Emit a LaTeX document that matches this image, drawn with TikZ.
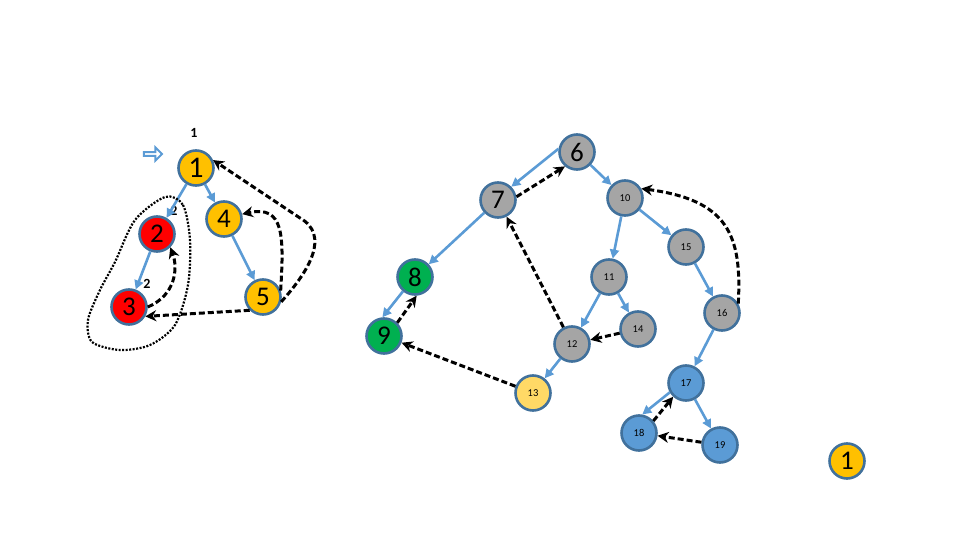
\documentclass[tikz,border=0pt]{standalone}
\usepackage{fontspec}
\setmainfont{Carlito}
\usetikzlibrary{arrows.meta,shapes.arrows}
\definecolor{bord}{HTML}{41719C}
\definecolor{orng}{HTML}{FFC000}
\definecolor{rd}{HTML}{FF0000}
\definecolor{gry}{HTML}{A5A5A5}
\definecolor{grn}{HTML}{00B050}
\definecolor{blu}{HTML}{5B9BD5}
\definecolor{ylw}{HTML}{FFD966}
\definecolor{arrblue}{HTML}{5B9BD5}
\tikzset{
  vtx/.style={circle, draw=bord, line width=2.6pt, minimum size=35pt, inner sep=0pt, font=\fontsize{27}{27}\selectfont},
  svtx/.style={vtx, font=\fontsize{10.5}{10.5}\selectfont},
  tree/.style={draw=arrblue, line width=2.6pt, -{Triangle[length=9pt,width=9pt]}},
  back/.style={draw=black, line width=3pt, dash pattern=on 6pt off 3pt, -{Stealth[length=11pt,width=11pt]}},
  lbl/.style={font=\bfseries\fontsize{14}{14}\selectfont, inner sep=0pt},
}
\begin{document}
\begin{tikzpicture}[x=1pt,y=-1pt]
\useasboundingbox (0,0) rectangle (960,540);
% left component
\node[vtx, fill=orng, font=\fontsize{30}{30}\selectfont] (n1) at (196,168) {1};
\node[vtx, fill=rd] (n2) at (157,234) {2};
\node[vtx, fill=rd] (n3) at (129,307) {3};
\node[vtx, fill=orng] (n4) at (224,219) {4};
\node[vtx, fill=orng] (n5) at (263,297) {5};
% middle
\node[vtx, fill=gry] (n6) at (577,152) {6};
\node[vtx, fill=gry] (n7) at (498,200) {7};
\node[vtx, fill=grn] (n8) at (415,277) {8};
\node[vtx, fill=grn] (n9) at (384,336) {9};
\node[svtx, fill=gry] (n10) at (625,198) {10};
\node[svtx, fill=gry] (n11) at (609,277) {11};
\node[svtx, fill=gry] (n12) at (572,344) {12};
\node[svtx, fill=ylw] (n13) at (533,393) {13};
\node[svtx, fill=gry] (n14) at (638,329) {14};
\node[svtx, fill=gry] (n15) at (686,247) {15};
\node[svtx, fill=gry] (n16) at (722,313) {16};
\node[svtx, fill=blu] (n17) at (686,383) {17};
\node[svtx, fill=blu] (n18) at (639,433) {18};
\node[svtx, fill=blu] (n19) at (720,445) {19};
\node[vtx, fill=orng] (big1) at (847,461) {1};
% labels
\node[lbl] (l1) at (194,133) {1};
\node[lbl] (l2) at (174,211) {2};
\node[lbl] (l3) at (147,284) {2};
% start arrow
\node[single arrow, draw=arrblue, line width=2pt, minimum height=18pt, minimum width=13pt, single arrow head extend=2.5pt, inner sep=0pt] (start) at (152,154) {};
% tree edges
\draw[tree] (n1) -- (n2);
\draw[tree] (n1) -- (n4);
\draw[tree] (n2) -- (n3);
\draw[tree] (n4) -- (n5);
\draw[tree] (n6.170) -- (n7.45);
\draw[tree] (n6) -- (n10);
\draw[tree] (n7) -- (n8);
\draw[tree] (n8.-130) -- (n9.95);
\draw[tree] (n10) -- (n11);
\draw[tree] (n10) -- (n15);
\draw[tree] (n11) -- (n12);
\draw[tree] (n11) -- (n14);
\draw[tree] (n12) -- (n13);
\draw[tree] (n15) -- (n16);
\draw[tree] (n16) -- (n17);
\draw[tree] (n17.-150) -- (n18.80);
\draw[tree] (n17) -- (n19);
% back edges
\draw[back] (n5.-15) .. controls (310,270) and (330,235) .. (300,218) -- (n1.25);
\draw[back] (n5.20) .. controls (284,235) and (284,205) .. (n4.15);
\draw[back] (n3.east) .. controls (176,295) and (178,268) .. (n2.-45);
\draw[back] (n5.225) -- (n3.-30);
\draw[back] (n7.10) -- (n6.-130);
\draw[back] (n9.45) -- (n8.-85);
\draw[back] (n12) -- (n7);
\draw[back] (n14) -- (n12);
\draw[back] (n13) -- (n9);
\draw[back] (n16.30) .. controls (742,235) and (728,200) .. (n10.30);
\draw[back] (n18.40) -- (n17.-133);
\draw[back] (n19) -- (n18);
% dotted component boundary
\draw[line width=2.2pt, dash pattern=on 2pt off 1.5pt] plot[smooth cycle] coordinates {(165,197) (183,205) (190,240) (188,285) (175,325) (150,345) (120,350) (92,342) (88,320) (100,290) (115,262) (135,220)};
\end{tikzpicture}
\end{document}
